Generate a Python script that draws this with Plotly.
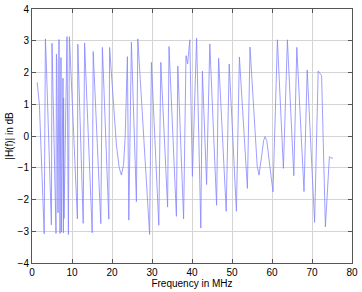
import plotly.graph_objects as go

# Frequency (MHz) and magnitude (dB)
freq_mhz = [1.3, 1.55, 1.85, 3.05, 3.35, 3.5, 4.85, 5.0, 6.0, 6.1, 6.2, 6.5, 6.75, 7.0, 7.25,
            7.35, 7.75, 7.85, 7.9, 8.0, 8.75, 9.1, 9.35, 11.35, 11.45, 12.8, 13.15, 15.05, 15.3,
            17.2, 17.6, 19.2, 19.4, 20.2, 21.1, 21.8, 22.35, 22.9, 23.3, 23.85, 24.2, 24.85,
            26.1, 26.45, 29.4, 29.85, 31.7, 32.2, 33.9, 34.25, 36.1, 36.45, 37.9, 38.5, 38.9,
            39.45, 40.1, 41.15, 42.2, 42.6, 43.65, 44.45, 46.15, 46.65, 48.55, 49.3, 51.1,
            51.85, 53.85, 54.5, 56.3, 56.75, 57.2, 57.6, 57.9, 58.25, 58.7, 59.2, 59.7, 60.25,
            61.35, 62.85, 63.85, 65.45, 66.2, 68.0, 68.8, 70.65, 71.55, 72.4, 73.35, 74.35,
            74.6, 75.25]
gain_db = [1.69, 1.4, 0.98, -3.08, 3.06, 2.6, -2.8, 2.92, -3.07, 2.58, 2.35, -2.42, 3.04, -3.07,
           2.47, -3.03, 1.82, -3.05, 1.2, -2.6, 3.13, -3.1, 3.13, -2.61, 2.89, -2.75, 2.93,
           -3.05, 2.66, -2.76, 2.79, -2.62, 2.79, 1.2, -0.28, -1.0, -1.23, -0.9, 0.0, 2.5,
           -2.65, 2.96, -2.07, 3.06, -3.1, 2.32, -2.81, 2.32, -2.24, 2.82, -2.53, 2.2, -2.61,
           2.53, 2.27, 3.03, -1.27, 3.08, -2.9, 2.04, -1.53, 2.9, -2.18, 2.45, -2.37, 2.27,
           -2.37, 2.49, -1.65, 2.8, -0.95, -1.23, -0.88, -0.45, -0.15, -0.02, -0.15, -0.6,
           -1.2, -1.76, 3.03, -1.02, 3.03, -1.25, 2.79, -1.75, 2.08, -2.72, 2.05, 1.9, -2.86,
           -0.65, -0.68, -0.7]

x_ticks = [0, 10, 20, 30, 40, 50, 60, 70, 80]
y_ticks = [-4, -3, -2, -1, 0, 1, 2, 3, 4]

font = dict(family="Liberation Sans, Arial, sans-serif", size=10, color="black")

fig = go.Figure(go.Scatter(
    x=freq_mhz, y=gain_db, mode="lines",
    line=dict(color="#8585ff", width=0.8),
    showlegend=False, hoverinfo="skip"))

axis_common = dict(showgrid=True, gridcolor="#d4d4d4", gridwidth=1,
                   showline=True, linecolor="#555555", linewidth=1, mirror="ticks",
                   ticks="inside", ticklen=4, tickcolor="#555555",
                   zeroline=False, tickfont=font, automargin=False)

fig.update_xaxes(range=[0, 80], tickvals=x_ticks, ticklabelstandoff=0,
                 title=dict(text="Frequency in MHz", font=font, standoff=0),
                 **axis_common)
fig.update_yaxes(range=[-4, 4], tickvals=y_ticks,
                 title=dict(text="|H(f)| in dB", font=font, standoff=2),
                 **axis_common)

fig.update_layout(width=362, height=292,
                  margin=dict(l=32, r=10, t=9, b=29),
                  paper_bgcolor="white", plot_bgcolor="white")

fig.write_html("out.html",
               config={"displayModeBar": False, "staticPlot": True},
               post_script="document.body.style.margin='0';document.body.style.overflow='hidden';")
